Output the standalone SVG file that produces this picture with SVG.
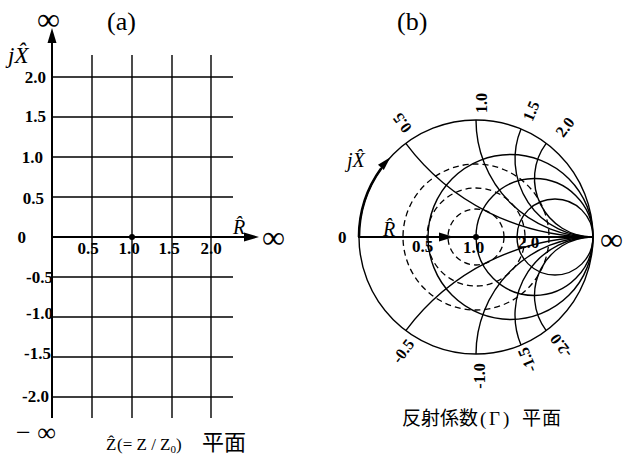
<svg xmlns="http://www.w3.org/2000/svg" width="623" height="459" viewBox="0 0 623 459">
<style>
.ln{stroke:#000;stroke-width:1.4;fill:none}
.ax{stroke:#000;stroke-width:2;fill:none}
.ds{stroke:#000;stroke-width:1.3;fill:none;stroke-dasharray:6 4}
.lb{font-family:"Liberation Serif",serif;font-weight:bold;font-size:17px;fill:#000}
.rl{font-family:"Liberation Serif",serif;font-weight:bold;font-size:16px;fill:#000}
.it{font-family:"Liberation Serif",serif;font-style:italic;fill:#000}
.rm{font-family:"Liberation Serif","Noto Sans CJK JP",serif;fill:#000}
.inf{font-family:"Liberation Serif",serif;font-size:32px;fill:#000}
</style>
<rect width="623" height="459" fill="#fff"/>
<g id="panel-a">
  <g id="grid-a">
    <path class="ln" d="M92 55V418M132 55V418M172 55V418M211 55V418"/>
    <path class="ln" d="M52 77H233M52 117H233M52 157H233M52 197H233M52 277H233M52 317H233M52 357H233M52 397H233"/>
  </g>
  <g id="axes-a">
    <path class="ax" d="M52 418V40M52 237H246"/>
    <polygon points="52,28 47.5,43 56.5,43" fill="#000"/>
    <polygon points="259,237 244,232.5 244,241.5" fill="#000"/>
    <circle cx="132" cy="237" r="3" fill="#000"/>
  </g>
  <g id="labels-a">
    <text class="rm" x="107" y="30" font-size="26">(a)</text>
    <text class="inf" x="37" y="30">∞</text>
    <text class="it" x="8" y="63" font-size="23">jX̂</text>
    <g class="lb" text-anchor="end">
      <text x="46" y="83">2.0</text>
      <text x="46" y="122">1.5</text>
      <text x="43" y="163">1.0</text>
      <text x="44" y="204">0.5</text>
      <text x="26" y="243">0</text>
      <text x="53" y="283">-0.5</text>
      <text x="53" y="319">-1.0</text>
      <text x="51" y="359">-1.5</text>
      <text x="49" y="402">-2.0</text>
    </g>
    <g class="lb" text-anchor="middle">
      <text x="88" y="254">0.5</text>
      <text x="129" y="254">1.0</text>
      <text x="169" y="254">1.5</text>
      <text x="211" y="254">2.0</text>
    </g>
    <text class="it" x="233" y="234" font-size="20">R̂</text>
    <text class="inf" x="262" y="248">∞</text>
    <text class="rm" x="16" y="441" font-size="26">− ∞</text>
    <text class="rm" y="450" font-size="17"><tspan x="106">Ẑ</tspan><tspan x="117">(= Z / Z</tspan><tspan font-size="11" dy="3">0</tspan><tspan dy="-3">)</tspan><tspan x="202" font-size="22">平面</tspan></text>
  </g>
</g>
<g id="panel-b">
  <g id="smith-circles">
    <circle class="ln" cx="476" cy="237" r="117"/>
    <circle class="ln" cx="510.5" cy="237" r="82.5"/>
    <circle class="ln" cx="534.5" cy="237" r="58.5"/>
    <circle class="ln" cx="555" cy="237" r="38"/>
  </g>
  <g id="reactance-arcs">
    <path class="ln" d="M405.8 143.4A234 234 0 0 0 593 237"/>
    <path class="ln" d="M476 120A117 117 0 0 0 593 237"/>
    <path class="ln" d="M521 129A78 78 0 0 0 593 237"/>
    <path class="ln" d="M546.2 143.4A58.5 58.5 0 0 0 593 237"/>
    <path class="ln" d="M405.8 330.6A234 234 0 0 1 593 237"/>
    <path class="ln" d="M476 354A117 117 0 0 1 593 237"/>
    <path class="ln" d="M521 345A78 78 0 0 1 593 237"/>
    <path class="ln" d="M546.2 330.6A58.5 58.5 0 0 1 593 237"/>
  </g>
  <g id="vswr-circles">
    <circle class="ds" cx="476" cy="237" r="28"/>
    <circle class="ds" cx="476" cy="237" r="49"/>
    <circle class="ds" cx="476" cy="237" r="73"/>
  </g>
  <g id="arrows-b">
    <path class="ax" d="M358 237H593"/>
    <polygon points="454,237 439,232.5 439,241.5" fill="#000"/>
    <path stroke="#000" stroke-width="2.6" fill="none" d="M359 237A117 117 0 0 1 381.3 168.2"/>
    <polygon points="390.4,157.2 383.8,170.1 378,164.7" fill="#000"/>
    <circle cx="476" cy="237" r="3" fill="#000"/>
  </g>
  <g id="labels-b">
    <text class="rm" x="397" y="30" font-size="26">(b)</text>
    <text class="lb" x="338" y="243">0</text>
    <text class="inf" x="600" y="250">∞</text>
    <text class="it" x="347" y="167" font-size="20">jX̂</text>
    <text class="it" x="383" y="236" font-size="20">R̂</text>
    <g class="lb">
      <text x="412" y="252">0.5</text>
      <text x="463" y="253">1.0</text>
      <text x="518" y="248">2.0</text>
    </g>
    <g class="rl" text-anchor="middle" dominant-baseline="central">
      <text transform="translate(402 123) rotate(-127)">0.5</text>
      <text transform="translate(481 103) rotate(-90)">1.0</text>
      <text transform="translate(531 111) rotate(-67)">1.5</text>
      <text transform="translate(565 127) rotate(-53)">2.0</text>
      <text transform="translate(403 351) rotate(-53)">-0.5</text>
      <text transform="translate(479 376) rotate(-90)">-1.0</text>
      <text transform="translate(527 360) rotate(-113)">-1.5</text>
      <text transform="translate(561 346) rotate(-127)">-2.0</text>
    </g>
    <text class="rm" y="425" font-size="19" x="402 421 440 459 480 489 503 522 542">反射係数(Γ)平面</text>
  </g>
</g>
</svg>
